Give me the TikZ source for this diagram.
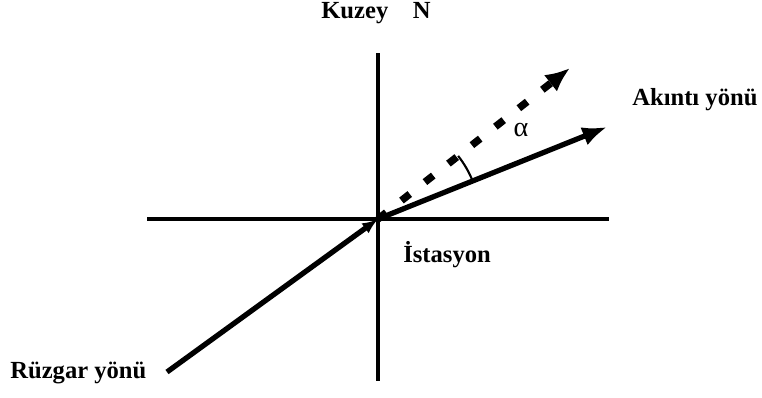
\documentclass[tikz,border=0pt]{standalone}
\usepackage{fontspec}
\setmainfont{Liberation Serif}
\usepackage{tikz}
\usetikzlibrary{arrows.meta, calc}

\tikzset{
  eksen/.style={line width=2.8pt},
  yon/.style={line width=3pt},
  etiket/.style={font=\fontsize{14}{16}\selectfont\bfseries, inner sep=0pt}
}

\begin{document}
\begin{tikzpicture}[x=0.02cm, y=-0.02cm]
    \useasboundingbox (0,0) rectangle (762,397);
    % Eksenler
    \coordinate (istasyon) at (378,219);
    \coordinate (kuzeyuc) at (378,53);
    \coordinate (guneyuc) at (378,381);
    \coordinate (batiuc) at (147,219);
    \coordinate (doguuc) at (609,219);
    \draw[eksen] (kuzeyuc) -- (guneyuc);
    \draw[eksen] (batiuc) -- (doguuc);
    \node[etiket] (kuzey) at (376,13) {Kuzey\quad N};
    \node[etiket, anchor=base west] (ist) at (403,262) {İstasyon};

    % Rüzgar ve akıntı
    \coordinate (ruzgarbas) at (167,372);
    \coordinate (akintiuc) at (607,127);
    \coordinate (sapmauc) at (570,68);
    \draw[yon, -{Latex[length=9pt,width=7pt]}] (ruzgarbas) -- (istasyon);
    \draw[yon, -{Latex[length=14pt,width=11pt]}] (istasyon) -- (akintiuc);
    \draw[line width=4.2pt, dash pattern=on 6pt off 11pt,
          -{Latex[length=14pt,width=12pt]}] (istasyon) -- (sapmauc);
    \node[etiket, anchor=west] (ruzgar) at (10,373) {Rüzgar yönü};
    \node[etiket, anchor=west] (akinti) at (632,100) {Akıntı yönü};

    % Açı
    \draw[line width=1.2pt] ($(istasyon)+(-21.9:102)$) arc[start angle=-21.9, end angle=-38.2, radius=102];
    \node (alfa) at (521,130) {\fontsize{16}{18}\selectfont α};
\end{tikzpicture}
\end{document}
